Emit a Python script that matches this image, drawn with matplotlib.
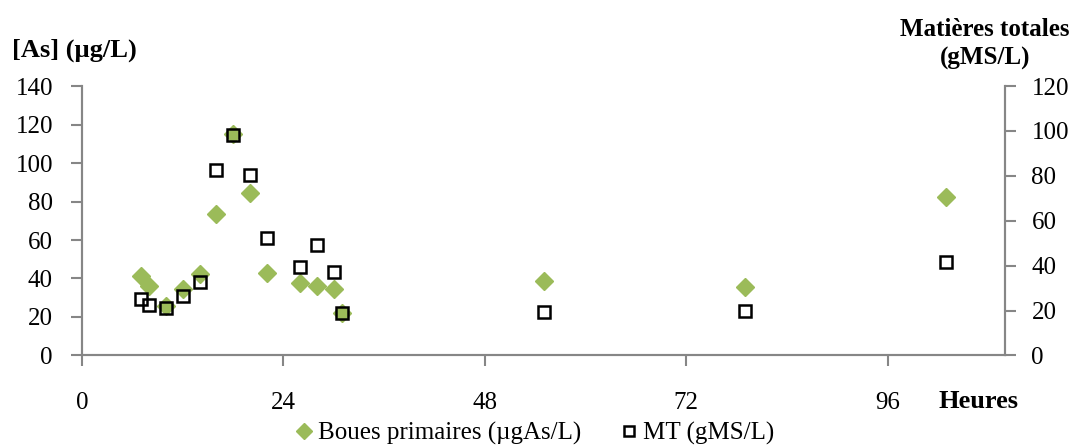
import matplotlib
matplotlib.use('Agg')
from matplotlib import pyplot as plt

plt.rcParams['font.family'] = ['Liberation Serif', 'DejaVu Serif']

# data
hours = [7, 8, 10, 12, 14, 16, 18, 20, 22, 26, 28, 30, 31, 55, 79, 103]
boues = [41.5, 36, 25.5, 34.5, 42.5, 73.5, 115, 84.5, 43, 37.5, 36, 34.5, 22, 38.5, 35.5, 82.5]
mt = [25, 22.3, 21, 26.3, 32.7, 82.8, 98.3, 80.2, 52.3, 39.5, 49.3, 37.3, 18.8, 19.5, 19.7, 41.7]
xticks = [0, 24, 48, 72, 96]

green = '#9BBB59'
grey = '#868686'

fig = plt.figure(figsize=(10.81, 4.48), dpi=100)
ax = fig.add_axes([0.0759, 0.2065, 0.8538, 0.6015])
ax2 = ax.twinx()

# series
ax.plot(hours, boues, linestyle='none', marker='D', ms=9.5, color=green,
        mec=green, label='Boues primaires (µgAs/L)', zorder=3)
ax2.plot(hours, mt, linestyle='none', marker='s', ms=8.3, mfc='none', mec='black',
         mew=1.8, label='MT (gMS/L)', zorder=4)

ax.set_xlim(0, 110)
ax.set_ylim(0, 140)
ax2.set_ylim(0, 120)
ax.set_xticks(xticks)
ax.set_yticks(range(0, 141, 20))
ax2.set_yticks(range(0, 121, 20))

for a in (ax, ax2):
    a.spines['top'].set_visible(False)
    for s in ('left', 'right', 'bottom'):
        a.spines[s].set_color(grey)
        a.spines[s].set_linewidth(1.5)
ax.tick_params(axis='x', direction='out', length=8, width=1.5, color=grey, pad=18, labelsize=18)
ax.tick_params(axis='y', direction='out', length=8, width=1.5, color=grey, pad=13, labelsize=18)
ax2.tick_params(axis='y', direction='out', length=8, width=1.5, color=grey, pad=11, labelsize=18)

# axis titles
fig.text(0.011, 0.888, '[As] (µg/L)', fontsize=19, fontweight='bold', va='center', ha='left')
fig.text(0.911, 0.902, 'Matières totales\n(gMS/L)', fontsize=18, fontweight='bold',
         va='center', ha='center', linespacing=1.3)
fig.text(0.905, 0.103, 'Heures', fontsize=19, fontweight='bold', va='center', ha='center')

h1, l1 = ax.get_legend_handles_labels()
h2, l2 = ax2.get_legend_handles_labels()
fig.legend(h1 + h2, l1 + l2, loc='center', bbox_to_anchor=(0.494, 0.033), ncol=2,
           frameon=False, fontsize=18, handletextpad=0.15, columnspacing=1.5,
           handlelength=0.8, markerscale=0.85)

plt.savefig('out.png', dpi=100)
